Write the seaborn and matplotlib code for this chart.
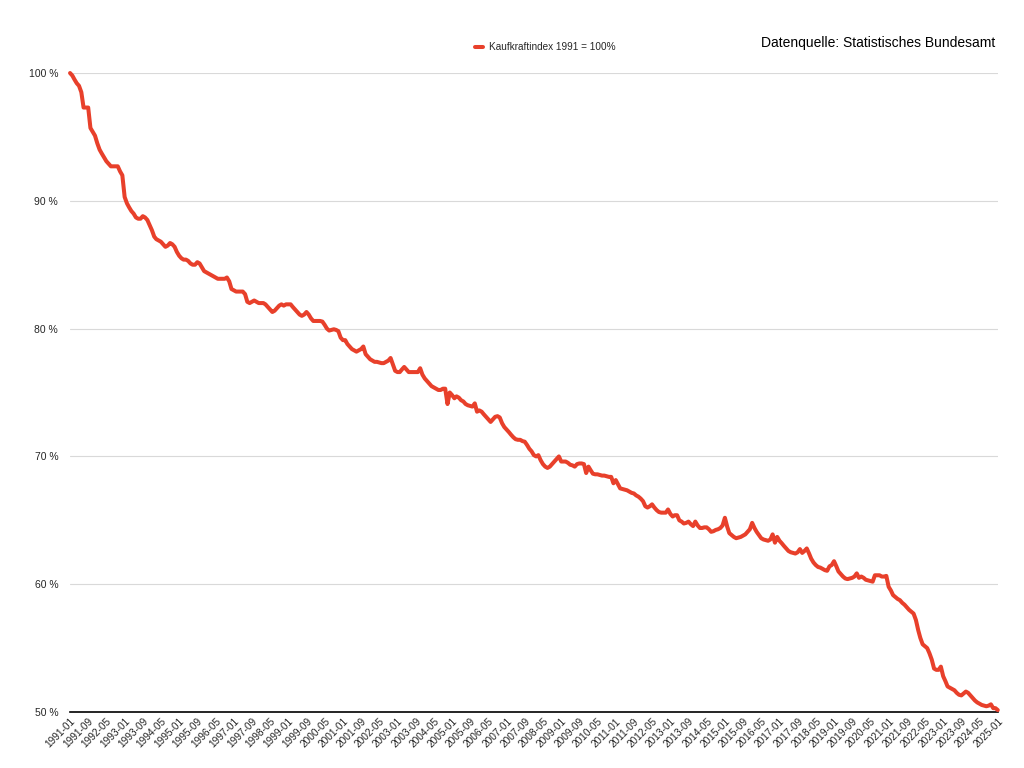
import pandas as pd
import matplotlib
matplotlib.use("Agg")
import matplotlib.pyplot as plt
import seaborn as sns

# Kaufkraftindex, monthly (1991-01 = 100)
werte_1991 = [100.0, 99.8, 99.5, 99.2, 99.0, 98.5, 97.3, 97.3, 97.3, 95.7, 95.4, 95.1]
werte_1992 = [94.5, 94.0, 93.7, 93.4, 93.1, 92.9, 92.7, 92.7, 92.7, 92.7, 92.3, 92.0]
werte_1993 = [90.3, 89.8, 89.5, 89.2, 89.0, 88.7, 88.6, 88.6, 88.8, 88.7, 88.5, 88.1]
werte_1994 = [87.7, 87.2, 87.0, 86.9, 86.8, 86.6, 86.4, 86.5, 86.7, 86.6, 86.4, 86.0]
werte_1995 = [85.7, 85.5, 85.4, 85.4, 85.3, 85.1, 85.0, 85.0, 85.2, 85.1, 84.8, 84.5]
werte_1996 = [84.4, 84.3, 84.2, 84.1, 84.0, 83.9, 83.9, 83.9, 83.9, 84.0, 83.7, 83.1]
werte_1997 = [83.0, 82.9, 82.9, 82.9, 82.9, 82.7, 82.1, 82.0, 82.1, 82.2, 82.1, 82.0]
werte_1998 = [82.0, 82.0, 81.9, 81.7, 81.5, 81.3, 81.4, 81.6, 81.8, 81.9, 81.8, 81.9]
werte_1999 = [81.9, 81.9, 81.7, 81.5, 81.3, 81.1, 81.0, 81.1, 81.3, 81.1, 80.8, 80.6]
werte_2000 = [80.6, 80.6, 80.6, 80.55, 80.3, 80.0, 79.85, 79.9, 79.95, 79.9, 79.8, 79.3]
werte_2001 = [79.1, 79.1, 78.8, 78.6, 78.4, 78.3, 78.2, 78.3, 78.4, 78.6, 78.0, 77.8]
werte_2002 = [77.6, 77.5, 77.4, 77.4, 77.35, 77.3, 77.3, 77.4, 77.5, 77.7, 77.2, 76.7]
werte_2003 = [76.6, 76.6, 76.8, 77.0, 76.8, 76.6, 76.6, 76.6, 76.6, 76.6, 76.9, 76.4]
werte_2004 = [76.1, 75.9, 75.7, 75.5, 75.4, 75.3, 75.2, 75.2, 75.3, 75.3, 74.1, 75.0]
werte_2005 = [74.8, 74.55, 74.7, 74.6, 74.4, 74.3, 74.1, 74.0, 73.95, 73.9, 74.15, 73.5]
werte_2006 = [73.6, 73.5, 73.3, 73.1, 72.9, 72.7, 72.9, 73.1, 73.15, 73.05, 72.6, 72.3]
werte_2007 = [72.1, 71.9, 71.7, 71.5, 71.35, 71.3, 71.3, 71.2, 71.15, 70.9, 70.6, 70.4]
werte_2008 = [70.1, 70.0, 70.1, 69.7, 69.4, 69.2, 69.1, 69.2, 69.4, 69.6, 69.8, 70.0]
werte_2009 = [69.6, 69.6, 69.6, 69.5, 69.35, 69.3, 69.2, 69.4, 69.45, 69.45, 69.4, 68.7]
werte_2010 = [69.2, 68.9, 68.65, 68.6, 68.6, 68.55, 68.5, 68.5, 68.45, 68.4, 68.4, 67.9]
werte_2011 = [68.15, 67.8, 67.5, 67.45, 67.4, 67.35, 67.25, 67.15, 67.1, 66.95, 66.85, 66.7]
werte_2012 = [66.5, 66.1, 66.0, 66.1, 66.25, 66.0, 65.8, 65.65, 65.6, 65.6, 65.6, 65.85]
werte_2013 = [65.5, 65.3, 65.4, 65.4, 65.0, 64.9, 64.75, 64.8, 64.9, 64.7, 64.55, 64.9]
werte_2014 = [64.6, 64.4, 64.4, 64.45, 64.45, 64.3, 64.1, 64.15, 64.25, 64.3, 64.4, 64.6]
werte_2015 = [65.2, 64.5, 64.0, 63.85, 63.7, 63.6, 63.65, 63.7, 63.8, 63.9, 64.1, 64.3]
werte_2016 = [64.8, 64.4, 64.1, 63.85, 63.6, 63.5, 63.45, 63.4, 63.5, 63.9, 63.25, 63.7]
werte_2017 = [63.4, 63.2, 63.0, 62.8, 62.6, 62.5, 62.45, 62.4, 62.5, 62.75, 62.45, 62.6]
werte_2018 = [62.8, 62.4, 62.0, 61.7, 61.5, 61.35, 61.3, 61.2, 61.1, 61.05, 61.4, 61.5]
werte_2019 = [61.8, 61.4, 61.0, 60.8, 60.6, 60.45, 60.4, 60.45, 60.5, 60.6, 60.85, 60.5]
werte_2020 = [60.6, 60.5, 60.35, 60.3, 60.25, 60.2, 60.7, 60.7, 60.7, 60.6, 60.6, 60.65]
werte_2021 = [59.8, 59.5, 59.15, 59.0, 58.85, 58.75, 58.55, 58.4, 58.2, 58.0, 57.85, 57.7]
werte_2022 = [57.2, 56.4, 55.8, 55.3, 55.15, 55.0, 54.6, 54.1, 53.4, 53.3, 53.3, 53.55]
werte_2023 = [52.8, 52.4, 52.0, 51.9, 51.8, 51.7, 51.5, 51.35, 51.3, 51.45, 51.6, 51.5]
werte_2024 = [51.3, 51.1, 50.9, 50.75, 50.65, 50.55, 50.5, 50.45, 50.5, 50.6, 50.3, 50.3]
werte_2025 = [50.15]

alle_jahre = [werte_1991, werte_1992, werte_1993, werte_1994, werte_1995, werte_1996,
              werte_1997, werte_1998, werte_1999, werte_2000, werte_2001, werte_2002,
              werte_2003, werte_2004, werte_2005, werte_2006, werte_2007, werte_2008,
              werte_2009, werte_2010, werte_2011, werte_2012, werte_2013, werte_2014,
              werte_2015, werte_2016, werte_2017, werte_2018, werte_2019, werte_2020,
              werte_2021, werte_2022, werte_2023, werte_2024, werte_2025]
kaufkraft = [v for jahr in alle_jahre for v in jahr]

monate = pd.date_range("1991-01-01", periods=len(kaufkraft), freq="MS")
df = pd.DataFrame({"Monat": monate, "Kaufkraft": kaufkraft})

# every 8th month gets a label
tick_monate = monate[::8]
tick_labels = [d.strftime("%Y-%m") for d in tick_monate]
y_ticks = [50, 60, 70, 80, 90, 100]

sns.set_theme(style="white")
plt.rcParams["font.family"] = ["Liberation Sans", "DejaVu Sans"]

fig = plt.figure(figsize=(10.24, 7.68), dpi=100)
ax = fig.add_axes([0.0684, 0.0729, 0.906, 0.832])

sns.lineplot(data=df, x="Monat", y="Kaufkraft", ax=ax, color="#e8402b",
             linewidth=2.9, label="Kaufkraftindex 1991 = 100%", clip_on=False, zorder=3)

ax.set_ylim(50, 100)
ax.set_xlim(monate[0], monate[-1])
ax.set_yticks(y_ticks)
ax.set_yticklabels([f"{t} %" for t in y_ticks], fontsize=7.5)
ax.set_xticks(tick_monate)
ax.set_xticklabels(tick_labels, rotation=45, ha="right", rotation_mode="anchor", fontsize=7.3)
ax.tick_params(axis="y", length=0, pad=8.5)
ax.tick_params(axis="x", length=0, pad=3)
ax.set_xlabel("")
ax.set_ylabel("")

ax.grid(axis="y", color="#d9d9d9", linewidth=0.8)
ax.grid(axis="x", visible=False)
for side in ["top", "right", "left"]:
    ax.spines[side].set_visible(False)
ax.spines["bottom"].set_color("black")
ax.spines["bottom"].set_linewidth(1.2)

ax.legend(loc="center", bbox_to_anchor=(0.512, 1.04), frameon=False, fontsize=7.2,
          handlelength=0.8, handletextpad=0.6)

fig.text(0.972, 0.944, "Datenquelle: Statistisches Bundesamt", ha="right", va="center",
         fontsize=10, color="black")

fig.savefig("out.png", dpi=100)
